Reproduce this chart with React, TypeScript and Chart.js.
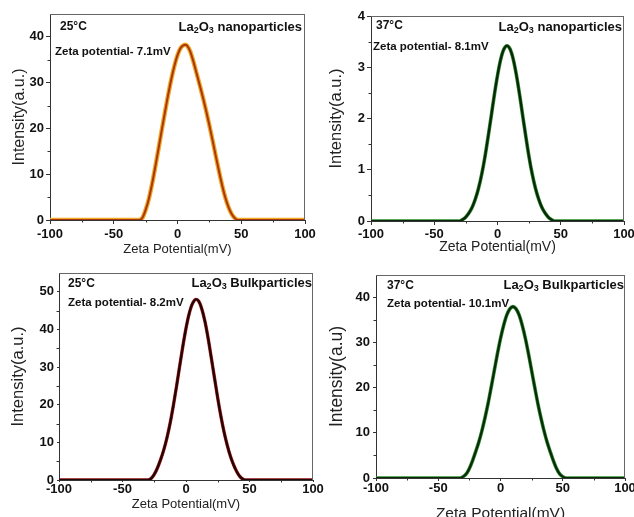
import React, { useEffect, useRef } from "react";
import { Chart, registerables } from "chart.js";

Chart.register(...registerables);

const FONT = "'Liberation Sans', Arial, Helvetica, sans-serif";

// ---------- data ----------
const xTickValues = [-100, -50, 0, 50, 100];
const xMinorTicks = [-75, -25, 25, 75];

// Panel 1: La2O3 nanoparticles, 25°C
const nano25X = [-100, -30, -27.5, -25, -22.5, -20, -17.5, -15, -12.5, -10, -7.5, -5, -2.5, 0, 2.5, 5, 6, 7.5, 10, 12.5, 15, 17.5, 20, 22.5, 25, 27.5, 30, 32.5, 35, 37.5, 40, 42.5, 45, 47.5, 100];
const nano25Y = [0, 0, 0.5, 2.2, 4.6, 7.8, 11.5, 15.4, 19.4, 23.3, 27.1, 30.6, 33.6, 36, 37.6, 38.2, 38.3, 38.1, 36.8, 34.6, 32, 29.4, 26.7, 23.8, 20.7, 17.4, 14, 10.7, 7.6, 4.9, 2.8, 1.3, 0.4, 0, 0];
const nano25YTicks = [0, 10, 20, 30, 40];
const nano25YMinor = [5, 15, 25, 35];

// Panel 2: La2O3 nanoparticles, 37°C
const nano37X = [-100, -30, -27.5, -25, -22.5, -20, -17.5, -15, -12.5, -10, -7.5, -5, -2.5, 0, 2.5, 5, 7.5, 10, 12.5, 15, 17.5, 20, 22.5, 25, 27.5, 30, 32.5, 35, 37.5, 40, 42.5, 45, 47.5, 100];
const nano37Y = [0, 0, 0.03, 0.08, 0.16, 0.27, 0.43, 0.64, 0.91, 1.24, 1.63, 2.04, 2.46, 2.84, 3.15, 3.35, 3.42, 3.35, 3.15, 2.84, 2.46, 2.04, 1.63, 1.24, 0.91, 0.64, 0.43, 0.27, 0.16, 0.08, 0.03, 0, 0, 0];
const nano37YTicks = [0, 1, 2, 3, 4];
const nano37YMinor = [0.5, 1.5, 2.5, 3.5];

// Panel 3: La2O3 bulk particles, 25°C
const bulk25X = [-100, -30, -27.5, -25, -22.5, -20, -17.5, -15, -12.5, -10, -7.5, -5, -2.5, 0, 2.5, 5, 8, 10, 12.5, 15, 17.5, 20, 22.5, 25, 27.5, 30, 32.5, 35, 37.5, 40, 42.5, 45, 47.5, 100];
const bulk25Y = [0, 0, 0.4, 1.5, 3.2, 5.4, 8.0, 11.2, 15.1, 19.7, 24.8, 30.2, 35.5, 40.3, 44.2, 46.8, 48, 47.5, 45.4, 42.0, 37.5, 32.3, 27.0, 21.7, 16.9, 12.7, 9.2, 6.3, 4.0, 2.2, 0.9, 0.2, 0, 0];
const bulk25YTicks = [0, 10, 20, 30, 40, 50];
const bulk25YMinor = [5, 15, 25, 35, 45];

// Panel 4: La2O3 bulk particles, 37°C
const bulk37X = [-100, -32.5, -30, -27.5, -25, -22.5, -20, -17.5, -15, -12.5, -10, -7.5, -5, -2.5, 0, 2.5, 5, 7.5, 10, 12.5, 15, 17.5, 20, 22.5, 25, 27.5, 30, 32.5, 35, 37.5, 40, 42.5, 45, 47.5, 50, 52.5, 100];
const bulk37Y = [0, 0, 0.3, 0.9, 2.1, 3.8, 5.8, 7.9, 10.4, 13.3, 16.5, 20.1, 23.8, 27.5, 30.9, 33.8, 36.1, 37.5, 38, 37.5, 36.1, 33.8, 30.9, 27.5, 23.8, 20.1, 16.5, 13.3, 10.4, 7.9, 5.8, 3.8, 2.1, 0.9, 0.3, 0, 0];
const bulk37YTicks = [0, 10, 20, 30, 40];
const bulk37YMinor = [5, 15, 25, 35];

// ---------- panel configs ----------
type Panel = {
  key: string;
  left: number; top: number; width: number; height: number;
  yWidth: number; xHeight: number; padTop: number; padRight: number;
  yMax: number; yTicks: number[]; yMinor: number[];
  xs: number[]; ys: number[];
  under: string; over: string; underW: number; overW: number;
  temp: string; material: string; zeta: string;
  yTitle: string; yTitleSize: number; yTitlePad: number;
  xTitleSize: number; xTitlePad: number;
  tickLen: number; xTickPad: number; yTickPad: number;
  ann: { tx: number; ty: number; rx: number; ry: number; zx: number; zy: number };
};

const panels: Panel[] = [
  {
    key: "p1", left: 0, top: 0, width: 317, height: 258,
    yWidth: 50, xHeight: 38, padTop: 14, padRight: 12,
    yMax: 45, yTicks: nano25YTicks, yMinor: nano25YMinor,
    xs: nano25X, ys: nano25Y,
    under: "#f0a828", over: "#a8380c", underW: 4.4, overW: 2,
    temp: "25°C", material: "nanoparticles", zeta: "Zeta potential- 7.1mV",
    yTitle: "Intensity(a.u.)", yTitleSize: 16, yTitlePad: 10, xTitleSize: 13, xTitlePad: 1,
    tickLen: 4, xTickPad: 3, yTickPad: 2,
    ann: { tx: 10, ty: 13, rx: 3, ry: 13, zx: 5, zy: 38 },
  },
  {
    key: "p2", left: 317, top: 0, width: 317, height: 258,
    yWidth: 54, xHeight: 37, padTop: 16, padRight: 10,
    yMax: 4, yTicks: nano37YTicks, yMinor: nano37YMinor,
    xs: nano37X, ys: nano37Y,
    under: "#2a8a2a", over: "#0a260a", underW: 3.6, overW: 2.2,
    temp: "37°C", material: "nanoparticles", zeta: "Zeta potential- 8.1mV",
    yTitle: "Intensity(a.u.)", yTitleSize: 16.5, yTitlePad: 10, xTitleSize: 14, xTitlePad: 2,
    tickLen: 4, xTickPad: 2, yTickPad: 2,
    ann: { tx: 5, ty: 10, rx: 2, ry: 11, zx: 2, zy: 31 },
  },
  {
    key: "p3", left: 0, top: 260, width: 330, height: 257,
    yWidth: 59, xHeight: 37, padTop: 13, padRight: 17,
    yMax: 55, yTicks: bulk25YTicks, yMinor: bulk25YMinor,
    xs: bulk25X, ys: bulk25Y,
    under: "#c42a2a", over: "#220606", underW: 3.4, overW: 2.4,
    temp: "25°C", material: "Bulkparticles", zeta: "Zeta potential- 8.2mV",
    yTitle: "Intensity(a.u.)", yTitleSize: 16.5, yTitlePad: 9, xTitleSize: 13, xTitlePad: 5,
    tickLen: 2, xTickPad: 0, yTickPad: 3,
    ann: { tx: 9, ty: 11, rx: 1, ry: 10, zx: 9, zy: 30 },
  },
  {
    key: "p4", left: 317, top: 260, width: 317, height: 270,
    yWidth: 59, xHeight: 52, padTop: 15, padRight: 9,
    yMax: 45, yTicks: bulk37YTicks, yMinor: bulk37YMinor,
    xs: bulk37X, ys: bulk37Y,
    under: "#2f912f", over: "#0b290b", underW: 3.6, overW: 2.2,
    temp: "37°C", material: "Bulkparticles", zeta: "Zeta potential- 10.1mV",
    yTitle: "Intensity(a.u)", yTitleSize: 17.5, yTitlePad: 10, xTitleSize: 15.5, xTitlePad: 7,
    tickLen: 3, xTickPad: 0, yTickPad: 3,
    ann: { tx: 11, ty: 11, rx: 1, ry: 10, zx: 11, zy: 29 },
  },
];

function drawMaterial(ctx: CanvasRenderingContext2D, rightX: number, cy: number, word: string) {
  const main = `bold 13px ${FONT}`;
  const sub = `bold 9px ${FONT}`;
  const parts: [string, string, number][] = [
    ["La", main, 0],
    ["2", sub, 4],
    ["O", main, 0],
    ["3", sub, 4],
    [" " + word, main, 0],
  ];
  let total = 0;
  for (const [t, f] of parts) {
    ctx.font = f;
    total += ctx.measureText(t).width;
  }
  let x = rightX - total;
  ctx.textBaseline = "middle";
  ctx.textAlign = "left";
  for (const [t, f, dy] of parts) {
    ctx.font = f;
    ctx.fillText(t, x, cy + dy);
    x += ctx.measureText(t).width;
  }
}

function PanelChart({ p }: { p: Panel }) {
  const ref = useRef<HTMLCanvasElement | null>(null);
  useEffect(() => {
    if (!ref.current) return;
    const decor = {
      id: "decor" + p.key,
      afterDraw(chart: any) {
        const { ctx, chartArea: ca, scales } = chart;
        ctx.save();
        // frame top/right
        ctx.strokeStyle = "#666";
        ctx.lineWidth = 1;
        ctx.beginPath();
        ctx.moveTo(ca.left, ca.top + 0.5);
        ctx.lineTo(ca.right, ca.top + 0.5);
        ctx.moveTo(ca.right - 0.5, ca.top);
        ctx.lineTo(ca.right - 0.5, ca.bottom);
        ctx.stroke();
        // minor ticks
        ctx.strokeStyle = "#333";
        ctx.beginPath();
        for (const v of xMinorTicks) {
          const px = Math.round(scales.x.getPixelForValue(v)) + 0.5;
          ctx.moveTo(px, ca.bottom);
          ctx.lineTo(px, ca.bottom + 2.5);
        }
        for (const v of p.yMinor) {
          const py = Math.round(scales.y.getPixelForValue(v)) + 0.5;
          ctx.moveTo(ca.left, py);
          ctx.lineTo(ca.left - 2.5, py);
        }
        ctx.stroke();
        // annotations
        ctx.fillStyle = "#111";
        ctx.textBaseline = "middle";
        ctx.textAlign = "left";
        ctx.font = `bold 12px ${FONT}`;
        ctx.fillText(p.temp, ca.left + p.ann.tx, ca.top + p.ann.ty);
        ctx.font = `bold 11.5px ${FONT}`;
        ctx.fillText(p.zeta, ca.left + p.ann.zx, ca.top + p.ann.zy);
        drawMaterial(ctx, ca.right - p.ann.rx, ca.top + p.ann.ry, p.material);
        ctx.restore();
      },
    };

    const points = p.xs.map((x, i) => ({ x, y: p.ys[i] }));
    const chart = new Chart(ref.current, {
      type: "line",
      data: {
        datasets: [
          {
            data: points,
            borderColor: p.over,
            borderWidth: p.overW,
            pointRadius: 0,
            cubicInterpolationMode: "monotone",
            fill: false,
            order: 1,
          },
          {
            data: points,
            borderColor: p.under,
            borderWidth: p.underW,
            pointRadius: 0,
            cubicInterpolationMode: "monotone",
            fill: false,
            order: 2,
          },
        ],
      },
      options: {
        responsive: false,
        animation: false,
        events: [],
        layout: { padding: { top: p.padTop, right: p.padRight, left: 0, bottom: 0 } },
        plugins: { legend: { display: false }, tooltip: { enabled: false } },
        scales: {
          x: {
            type: "linear",
            min: -100,
            max: 100,
            afterBuildTicks: (s: any) => {
              s.ticks = xTickValues.map((v) => ({ value: v }));
            },
            afterFit: (s: any) => {
              s.height = p.xHeight;
              s.paddingLeft = 0;
              s.paddingRight = 0;
            },
            ticks: {
              color: "#111",
              font: { family: FONT, size: 13, weight: "bold" },
              padding: p.xTickPad,
              maxRotation: 0,
              autoSkip: false,
            },
            grid: { drawOnChartArea: false, drawTicks: true, tickLength: p.tickLen, tickColor: "#333" },
            border: { display: true, color: "#333", width: 1 },
            title: {
              display: true,
              text: "Zeta Potential(mV)",
              color: "#222",
              font: { family: FONT, size: p.xTitleSize },
              padding: { top: 0, bottom: p.xTitlePad },
            },
          },
          y: {
            type: "linear",
            min: 0,
            max: p.yMax,
            afterBuildTicks: (s: any) => {
              s.ticks = p.yTicks.map((v) => ({ value: v }));
            },
            afterFit: (s: any) => {
              s.width = p.yWidth;
              s.paddingTop = 0;
              s.paddingBottom = 0;
            },
            ticks: {
              color: "#111",
              font: { family: FONT, size: 13, weight: "bold" },
              padding: p.yTickPad,
            },
            grid: { drawOnChartArea: false, drawTicks: true, tickLength: p.tickLen, tickColor: "#333" },
            border: { display: true, color: "#333", width: 1 },
            title: {
              display: true,
              text: p.yTitle,
              color: "#222",
              font: { family: FONT, size: p.yTitleSize },
              padding: { top: p.yTitlePad, bottom: 0 },
            },
          },
        },
      },
      plugins: [decor],
    } as any);
    return () => chart.destroy();
  }, [p]);

  return (
    <canvas
      ref={ref}
      width={p.width}
      height={p.height}
      style={{ position: "absolute", left: p.left, top: p.top, width: p.width, height: p.height }}
    />
  );
}

export default function App() {
  return (
    <div
      style={{
        position: "absolute",
        left: 0,
        top: 0,
        width: 634,
        height: 517,
        overflow: "hidden",
        background: "#ffffff",
      }}
    >
      {panels.map((p) => (
        <PanelChart key={p.key} p={p} />
      ))}
    </div>
  );
}
